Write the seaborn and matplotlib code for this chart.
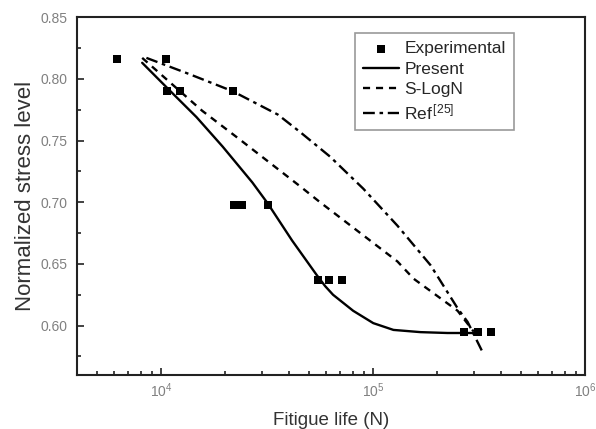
import matplotlib
matplotlib.use("Agg")
import matplotlib.pyplot as plt
import matplotlib.ticker as mticker
import seaborn as sns
import numpy as np
import pandas as pd

# experimental points
exp_life = [6200, 10560, 10700, 12200, 21900, 22000, 24000, 31800,
            54800, 61800, 71300, 267000, 311000, 358000]
exp_stress = [0.816, 0.816, 0.790, 0.790, 0.790, 0.698, 0.698, 0.698,
              0.637, 0.637, 0.637, 0.595, 0.595, 0.595]

# fitted curves
present_life = [8130, 10900, 14660, 19500, 26900, 31800, 41400, 54100, 59300,
                64600, 80400, 100000, 124500, 167100, 223900, 297900]
present_stress = [0.813, 0.791, 0.769, 0.745, 0.716, 0.699, 0.669, 0.641, 0.632,
                  0.625, 0.612, 0.602, 0.5965, 0.5947, 0.594, 0.594]

slogn_life = [8130, 15630, 23400, 45100, 56100, 130000, 155000, 250000, 298000]
slogn_stress = [0.817, 0.774, 0.751, 0.713, 0.700, 0.652, 0.638, 0.612, 0.595]

ref_life = [8510, 13490, 21700, 35500, 45100, 62500, 89700, 130000,
            186200, 250000, 278600, 328900]
ref_stress = [0.817, 0.804, 0.790, 0.771, 0.757, 0.737, 0.711, 0.681,
              0.649, 0.614, 0.603, 0.578]

sns.set_style("ticks")
plt.rcParams['font.family'] = ['Liberation Sans', 'DejaVu Sans']
plt.rcParams['mathtext.fontset'] = 'custom'
plt.rcParams['mathtext.rm'] = 'Liberation Sans'
plt.rcParams['mathtext.it'] = 'Liberation Sans'
plt.rcParams['lines.solid_joinstyle'] = 'round'
plt.rcParams['lines.dash_joinstyle'] = 'round'

fig = plt.figure(figsize=(5.96, 4.29), dpi=100)
ax = fig.add_axes([0.129, 0.126, 0.853, 0.834])

df_exp = pd.DataFrame({"life": exp_life, "stress": exp_stress})
sns.scatterplot(data=df_exp, x="life", y="stress", marker="s", s=40, color="black",
                edgecolor="black", linewidth=0, ax=ax, label="Experimental", zorder=3)
sns.lineplot(x=present_life, y=present_stress, color="black", linewidth=1.7, ax=ax,
             label="Present", sort=False)
sns.lineplot(x=slogn_life, y=slogn_stress, color="black", linewidth=1.7, ax=ax,
             label="S-LogN", sort=False, linestyle=(0, (3, 2.5)))
sns.lineplot(x=ref_life, y=ref_stress, color="black", linewidth=1.7, ax=ax,
             label="Ref$^{\\,[25]}$", sort=False, linestyle=(0, (5, 2, 1.5, 2)))

ax.set_xscale("log")
ax.set_xlim(4000, 1e6)
ax.set_ylim(0.56, 0.85)
ax.set_yticks([0.60, 0.65, 0.70, 0.75, 0.80, 0.85])
ax.yaxis.set_minor_locator(mticker.MultipleLocator(0.025))
ax.yaxis.set_major_formatter(mticker.FormatStrFormatter("%.2f"))
ax.xaxis.set_major_locator(mticker.LogLocator(base=10, numticks=10))
ax.xaxis.set_minor_locator(mticker.LogLocator(base=10, subs=np.arange(2, 10), numticks=10))

ax.tick_params(which="both", direction="in", colors="#222222", labelcolor="#808080",
               labelsize=10, width=1.2)
ax.tick_params(which="major", length=5)
ax.tick_params(axis="y", which="major", pad=7)
ax.tick_params(axis="x", which="major", pad=5)
ax.tick_params(which="minor", length=3)
for sp in ax.spines.values():
    sp.set_linewidth(1.5)
    sp.set_color("#222222")

ax.set_xlabel("Fitigue life (N)", fontsize=13.5, color="#333333", labelpad=8)
ax.set_ylabel("Normalized stress level", fontsize=16, color="#333333", labelpad=3)

leg = ax.legend(loc="upper left", bbox_to_anchor=(0.547, 0.955), fontsize=12.5,
                frameon=True, fancybox=False, handlelength=2.1, handletextpad=0.3,
                borderpad=0.45, labelspacing=0.3, borderaxespad=0)
leg.get_frame().set_edgecolor("#808080")
leg.get_frame().set_linewidth(1.2)

fig.savefig("out.png", dpi=100)
